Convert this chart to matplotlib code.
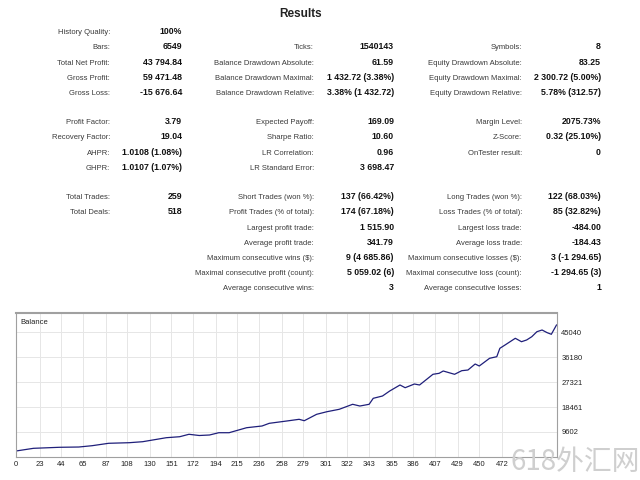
import matplotlib
matplotlib.use("Agg")
import matplotlib.pyplot as plt

plt.rcParams['font.family'] = ['Liberation Sans Narrow', 'Liberation Sans', 'DejaVu Sans']

# report rows (y in pixels from top)
row_y = [31, 46, 62, 77, 92, 121, 136, 152, 167, 196, 211, 227, 242, 257, 272, 287]

col1_labels = ["History Quality:", "Bars:", "Total Net Profit:", "Gross Profit:", "Gross Loss:",
               "Profit Factor:", "Recovery Factor:", "AHPR:", "GHPR:",
               "Total Trades:", "Total Deals:", "", "", "", "", ""]
col1_values = ["100%", "6549", "43 794.84", "59 471.48", "-15 676.64",
               "3.79", "19.04", "1.0108 (1.08%)", "1.0107 (1.07%)",
               "259", "518", "", "", "", "", ""]

col2_labels = ["", "Ticks:", "Balance Drawdown Absolute:", "Balance Drawdown Maximal:",
               "Balance Drawdown Relative:", "Expected Payoff:", "Sharpe Ratio:",
               "LR Correlation:", "LR Standard Error:", "Short Trades (won %):",
               "Profit Trades (% of total):", "Largest profit trade:", "Average profit trade:",
               "Maximum consecutive wins ($):", "Maximal consecutive profit (count):",
               "Average consecutive wins:"]
col2_values = ["", "1540143", "61.59", "1 432.72 (3.38%)", "3.38% (1 432.72)", "169.09",
               "10.60", "0.96", "3 698.47", "137 (66.42%)", "174 (67.18%)", "1 515.90",
               "341.79", "9 (4 685.86)", "5 059.02 (6)", "3"]

col3_labels = ["", "Symbols:", "Equity Drawdown Absolute:", "Equity Drawdown Maximal:",
               "Equity Drawdown Relative:", "Margin Level:", "Z-Score:", "OnTester result:",
               "", "Long Trades (won %):", "Loss Trades (% of total):", "Largest loss trade:",
               "Average loss trade:", "Maximum consecutive losses ($):",
               "Maximal consecutive loss (count):", "Average consecutive losses:"]
col3_values = ["", "8", "83.25", "2 300.72 (5.00%)", "5.78% (312.57)", "2075.73%",
               "0.32 (25.10%)", "0", "", "122 (68.03%)", "85 (32.82%)", "-484.00",
               "-184.43", "3 (-1 294.65)", "-1 294.65 (3)", "1"]

# balance curve
trade_idx = [0, 17, 42, 61, 74, 90, 110, 123, 146, 159, 168, 178, 188, 197, 207, 224, 239,
             246, 263, 275, 280, 292, 302, 314, 327, 334, 343, 347, 356, 363, 373, 378, 387,
             392, 405, 411, 415, 426, 433, 439, 446, 450, 460, 467, 470, 475, 485, 491, 496,
             501, 506, 511, 516, 520, 525]
balance = [2870, 3820, 4180, 4280, 4750, 5600, 5810, 6160, 7580, 7930, 8790, 8360, 8540,
           9350, 9350, 11120, 11730, 12680, 13500, 14100, 13600, 15870, 16790, 17650, 19420,
           18810, 19420, 21540, 22360, 24130, 26260, 25300, 26610, 26260, 30050, 30400,
           31220, 30050, 31330, 31570, 33700, 32990, 35720, 36290, 39260, 40430, 42810,
           41600, 42210, 43370, 45150, 45750, 44790, 44230, 47520]

y_ticks = [9602, 18461, 27321, 36180, 45040]
x_ticks = [0, 23, 44, 65, 87, 108, 130, 151, 172, 194, 215, 236, 258, 279, 301, 322, 343,
           365, 386, 407, 429, 450, 472]

W, H = 640, 480
fig = plt.figure(figsize=(6.4, 4.8), dpi=100)


def px(x, y):
    return x / W, 1 - y / H


fig.text(*px(301, 14), "Results", ha='center', va='center', fontsize=8.5,
         fontweight='bold', color='#222222')

cols = [(110, 182, col1_labels, col1_values),
        (314, 394, col2_labels, col2_values),
        (522, 601, col3_labels, col3_values)]
for lab_x, val_x, labs, vals in cols:
    for y, lab, val in zip(row_y, labs, vals):
        if lab:
            fig.text(*px(lab_x, y + 3), lab, ha='right', va='baseline', fontsize=5.5,
                     color='#3a3a3a')
        if val:
            fig.text(*px(val_x, y + 3), val, ha='right', va='baseline', fontsize=6.3,
                     fontweight='bold', color='#111111')

# balance chart
ax = fig.add_axes([16 / W, 1 - 457 / H, (557 - 16) / W, (457 - 313) / H])
ax.plot(trade_idx, balance, color='#1f1f7a', lw=0.9)
ax.set_xlim(0, 525.5)
ax.set_ylim(742, 51774)
ax.set_xticks(x_ticks)
ax.set_yticks(y_ticks)
ax.set_xticklabels([str(v) for v in x_ticks])
ax.set_yticklabels([str(v) for v in y_ticks])
ax.yaxis.tick_right()
ax.tick_params(axis='both', length=0, labelsize=5.5, colors='#222222', pad=3)
ax.grid(True, color='#e6e6e6', lw=0.7)
for s in ax.spines.values():
    s.set_color('#a0a0a0')
    s.set_linewidth(0.8)
ax.spines['top'].set_linewidth(1.5)
ax.text(0.008, 0.96, "Balance", transform=ax.transAxes, ha='left', va='top',
        fontsize=5.5, color='#222222')

fig.text(*px(640, 462), "618外汇网", ha='right', va='center', fontsize=20,
         color='#cfcfcf', family=['Noto Sans CJK SC', 'DejaVu Sans'])

fig.savefig("out.png", dpi=100)
